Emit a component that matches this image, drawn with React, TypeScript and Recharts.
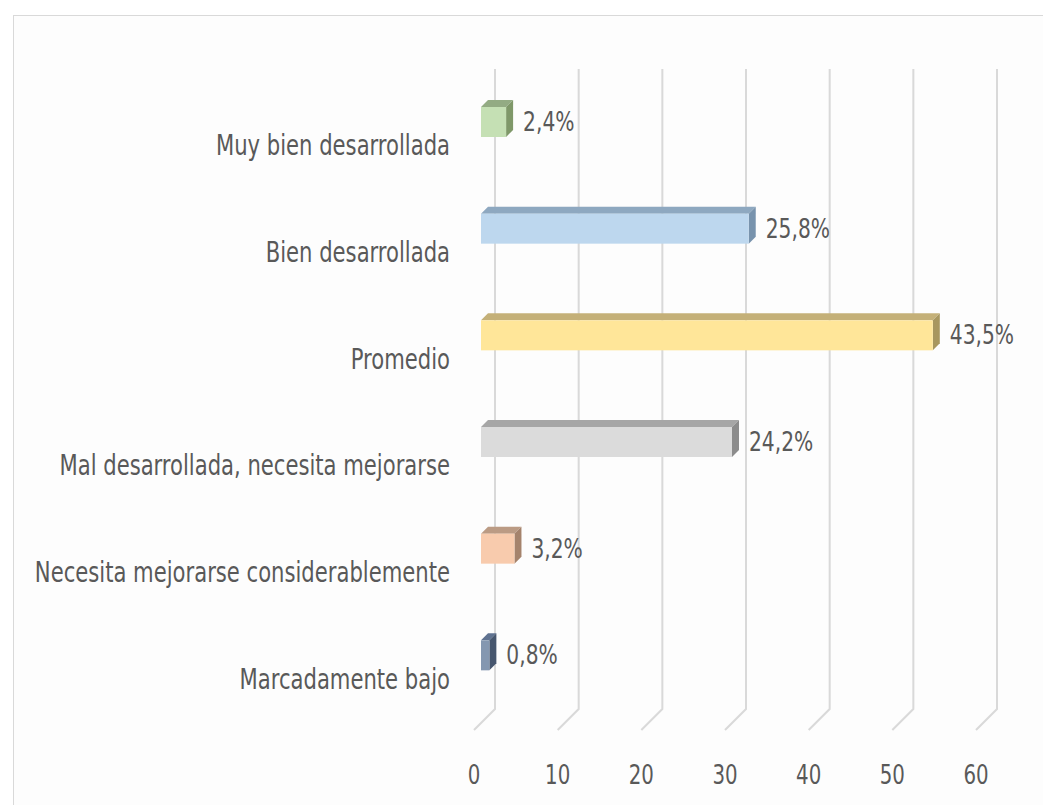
import { Bar, BarChart, CartesianGrid, LabelList, XAxis, YAxis } from 'recharts'

const categories = [
  'Muy bien desarrollada',
  'Bien desarrollada',
  'Promedio',
  'Mal desarrollada, necesita mejorarse',
  'Necesita mejorarse considerablemente',
  'Marcadamente bajo',
]
const counts = [3, 32, 54, 30, 4, 1]
const percentLabels = ['2,4%', '25,8%', '43,5%', '24,2%', '3,2%', '0,8%']
const xTicks = [0, 10, 20, 30, 40, 50, 60]

const frontColors = ['#c5e0b4', '#bdd7ee', '#ffe699', '#dbdbdb', '#f8cbad', '#8497b0']
const topColors = ['#93ab83', '#8ea8c0', '#c4b078', '#a6a6a6', '#bb9b84', '#5f7290']
const sideColors = ['#7f9869', '#7893ad', '#a8975f', '#8c8c8c', '#a5836c', '#46566e']

const FONT = "'DejaVu Sans Condensed', 'DejaVu Sans', sans-serif"
const TEXT = '#595959'
const DEPTH = 7

const data = categories.map((name, i) => ({ name, count: counts[i], label: percentLabels[i] }))

// text squeezed a bit narrower and taller, like the source picture
function StretchText(props: any) {
  const { x, y, size, anchor, children } = props
  return (
    <text
      transform={`translate(${x},${y}) scale(1,1.17)`}
      textAnchor={anchor ?? 'start'}
      fill={TEXT}
      fontSize={size}
      fontFamily={FONT}
    >
      {children}
    </text>
  )
}

function Bar3D(props: any) {
  const { x, y, width, height, index } = props
  const d = DEPTH
  return (
    <g>
      <polygon
        points={`${x},${y} ${x + d},${y - d} ${x + width + d},${y - d} ${x + width},${y}`}
        fill={topColors[index]}
      />
      <polygon
        points={`${x + width},${y} ${x + width + d},${y - d} ${x + width + d},${y + height - d} ${x + width},${y + height}`}
        fill={sideColors[index]}
      />
      <rect x={x} y={y} width={width} height={height} fill={frontColors[index]} />
    </g>
  )
}

function CategoryTick(props: any) {
  const { y, payload } = props
  return (
    <StretchText x={450} y={y + 33} size={23.5} anchor='end'>
      {payload.value}
    </StretchText>
  )
}

function ValueTick(props: any) {
  const { x, payload } = props
  return (
    <StretchText x={x - 7} y={784} size={22} anchor='middle'>
      {payload.value}
    </StretchText>
  )
}

function FloorLine(props: any) {
  const { x1, y1, y2 } = props
  return (
    <path
      d={`M${x1 + 14},${y1} L${x1 + 14},${y2} L${x1 - 7},${y2 + 21}`}
      fill='none'
      stroke='#d9d9d9'
      strokeWidth={2}
    />
  )
}

function ValueLabel(props: any) {
  const { x, y, width, height, value } = props
  return (
    <StretchText x={x + width + DEPTH + 10} y={y + height / 2 + 9} size={22.5}>
      {value}
    </StretchText>
  )
}

export default function App() {
  return (
    <div
      style={{
        position: 'absolute',
        left: 0,
        top: 0,
        width: 1043,
        height: 805,
        overflow: 'hidden',
        background: '#fff',
      }}
    >
      <div
        style={{
          position: 'absolute',
          left: 13,
          top: 15,
          width: 1100,
          height: 900,
          border: '1px solid #d9d9d9',
          background: '#fdfdfd',
        }}
      />
      <div style={{ position: 'absolute', left: 0, top: 0 }}>
        <BarChart
          width={1043}
          height={805}
          data={data}
          layout='vertical'
          margin={{ top: 69, right: 60, left: 0, bottom: 36 }}
        >
          <CartesianGrid horizontal={false} vertical={FloorLine} />
          <XAxis
            type='number'
            domain={[0, 60]}
            ticks={xTicks}
            axisLine={false}
            tickLine={false}
            height={60}
            tick={ValueTick}
            interval={0}
          />
          <YAxis
            type='category'
            dataKey='name'
            width={481}
            axisLine={false}
            tickLine={false}
            tick={CategoryTick}
            interval={0}
          />
          <Bar dataKey='count' barSize={30} shape={Bar3D} isAnimationActive={false}>
            <LabelList dataKey='label' content={ValueLabel} />
          </Bar>
        </BarChart>
      </div>
    </div>
  )
}
